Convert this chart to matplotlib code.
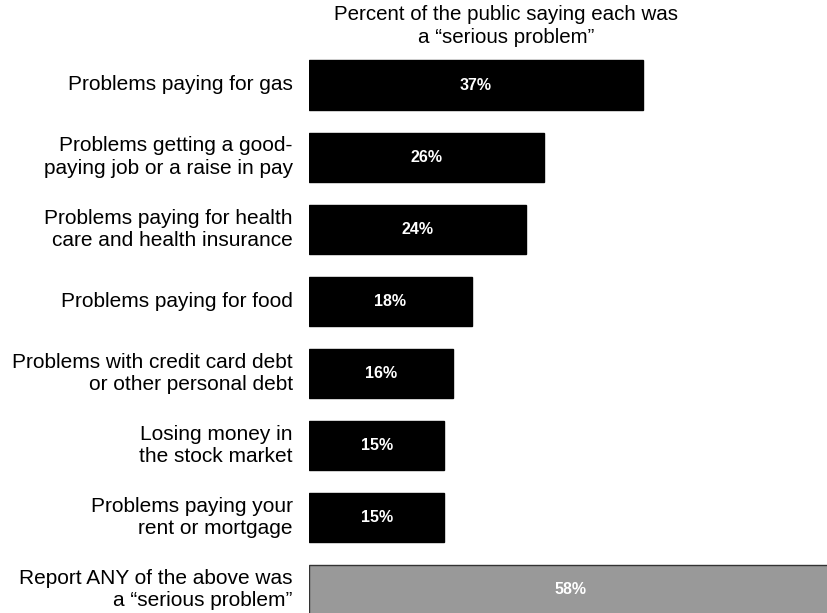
import matplotlib.pyplot as plt

plt.rcParams['font.family'] = ['Liberation Sans', 'DejaVu Sans']

labels = [
    "Problems paying for gas",
    "Problems getting a good-\npaying job or a raise in pay",
    "Problems paying for health\ncare and health insurance",
    "Problems paying for food",
    "Problems with credit card debt\nor other personal debt",
    "Losing money in\nthe stock market",
    "Problems paying your\nrent or mortgage",
    "Report ANY of the above was\na \u201cserious problem\u201d",
]
values = [37, 26, 24, 18, 16, 15, 15, 58]
colors = ['black'] * 7 + ['#999999']

fig = plt.figure(figsize=(8.28, 6.13), dpi=100)
# axes starts where the bars start and runs to the right/bottom edges
ax = fig.add_axes([309 / 828, 0, 1 - 309 / 828, 1])

ypos = list(range(len(values)))
ax.barh(ypos, values, height=0.68, color=colors,
        edgecolor=['black'] * 7 + ['#333333'], linewidth=1)

for y, v in zip(ypos, values):
    ax.text(v / 2, y, f"{v}%", ha='center', va='center', color='white',
            fontsize=11.5, fontweight='bold')

for y, lab in zip(ypos, labels):
    ax.text(-1.8, y, lab, ha='right', va='center', fontsize=15,
            linespacing=1.22, clip_on=False)

ax.set_xlim(0, 519 / 9.03)
ax.set_ylim((613 - 85) / 72.1, -85 / 72.1)
ax.axis('off')

fig.text(506 / 828, 1 - 26 / 613, "Percent of the public saying each was\na \u201cserious problem\u201d",
         ha='center', va='center', fontsize=14.8, linespacing=1.25)

fig.savefig('out.png', dpi=100)
